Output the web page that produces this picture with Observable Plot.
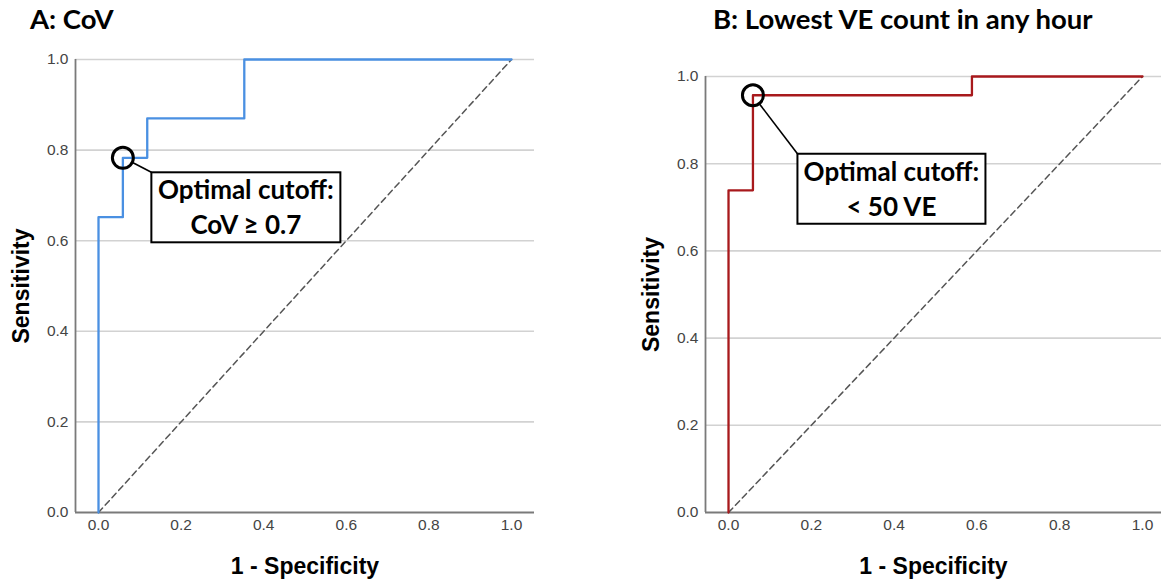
<!DOCTYPE html>
<html>
<head>
<meta charset="utf-8">
<script src="https://cdn.jsdelivr.net/npm/d3@7"></script>
<script src="https://cdn.jsdelivr.net/npm/@observablehq/plot@0.6"></script>
<style>
  html, body { margin: 0; padding: 0; background: #fff; }
  #wrap { display: flex; width: 1161px; height: 583px; overflow: hidden; }
  .panel { position: relative; flex: none; }
  .title { height: 45px; position: relative; font-family: Lato, "Open Sans", sans-serif; font-weight: 700; font-size: 27.5px; color: #000; }
  .title span { position: absolute; top: 4px; line-height: 30px; white-space: nowrap; }
  svg { display: block; }
  g[aria-label$="tick label"], g[aria-label$="tick label"] text { font-size: 15.5px !important; font-family: "Liberation Sans", Arial, sans-serif; }
</style>
</head>
<body>
<div id="wrap">
  <div class="panel" id="pa" style="width:580px"><div class="title"><span style="left:30px"></span></div></div>
  <div class="panel" id="pb" style="width:581px"><div class="title"><span style="left:133px"></span></div></div>
</div>
<script>
// ---- data ----
const titles = ["A: CoV", "B: Lowest VE count in any hour"];
const xLabel = "1 - Specificity";
const yLabel = "Sensitivity";
const tickValues = [0, 0.2, 0.4, 0.6, 0.8, 1.0];
const gridValues = [0.2, 0.4, 0.6, 0.8, 1.0];

// ROC A (CoV): 1 - specificity vs sensitivity (step points)
const fprA = [0, 0, 0.059, 0.118, 0.353, 1.0];
const sensA = [0, 0.652, 0.783, 0.870, 1.0, 1.0];
// ROC B (lowest VE count in any hour)
const fprB = [0, 0, 0.059, 0.588, 1.0];
const sensB = [0, 0.739, 0.957, 1.0, 1.0];

// reference diagonal
const diagX = [0, 1];
const diagY = [0, 1];

// optimal cutoffs
const optimalFpr = [0.059, 0.059];
const optimalSens = [0.783, 0.957];
const cutoffLines = [["Optimal cutoff:", "CoV \u2265 0.7"], ["Optimal cutoff:", "< 50 VE"]];

// ---- drawing ----
const fmt = d3.format(".1f");
const diag = diagX.map((x, i) => ({x, y: diagY[i]}));

function annotation(opt, lines, box) {
  return (index, scales) => {
    const cx = scales.x(opt.fpr), cy = scales.y(opt.sens);
    const g = d3.create("svg:g");
    const bx = cx + box.dx, by = cy + box.dy;
    const a = Math.atan2(by - cy, bx - cx);
    const r0 = 12;
    g.append("line")
      .attr("x1", cx + r0 * Math.cos(a)).attr("y1", cy + r0 * Math.sin(a))
      .attr("x2", bx).attr("y2", by)
      .attr("stroke", "#000").attr("stroke-width", 1.6);
    g.append("rect")
      .attr("x", bx).attr("y", by).attr("width", box.w).attr("height", box.h)
      .attr("fill", "#fff").attr("stroke", "#000").attr("stroke-width", 2);
    lines.forEach((t, i) => {
      g.append("text")
        .attr("x", bx + box.w / 2).attr("y", by + 27 + i * 35)
        .attr("text-anchor", "middle")
        .attr("font-family", "Lato, 'Open Sans', sans-serif")
        .attr("font-weight", 700).attr("font-size", 26)
        .attr("fill", "#000")
        .text(t);
    });
    return g.node();
  };
}

function panel(cfg) {
  const roc = cfg.fpr.map((f, i) => ({fpr: f, sens: cfg.sens[i]}));
  const opt = {fpr: cfg.opt[0], sens: cfg.opt[1]};
  return Plot.plot({
    width: cfg.width,
    height: 538,
    marginTop: cfg.marginTop,
    marginBottom: 71,
    marginLeft: cfg.marginLeft,
    marginRight: cfg.marginRight,
    style: {background: "#fff", fontFamily: "'Liberation Sans', Arial, sans-serif", fontSize: "15.5px", overflow: "visible"},
    x: {domain: cfg.xDomain},
    y: {domain: [0, 1]},
    marks: [
      Plot.ruleY(gridValues, {stroke: "#d2d2d2", strokeWidth: 1.6}),
      Plot.axisX(tickValues, {tickFormat: fmt, tickSize: 0, tickPadding: 6, label: null, fontSize: 15.5, fill: "#444"}),
      Plot.axisY(tickValues, {tickFormat: fmt, tickSize: 0, tickPadding: 7, label: null, fontSize: 15.5, fill: "#444"}),
      Plot.ruleX([cfg.xDomain[0]], {stroke: "#7a7a7a", strokeWidth: 1.8}),
      Plot.ruleY([0], {stroke: "#7a7a7a", strokeWidth: 1.8}),
      Plot.line(diag, {x: "x", y: "y", stroke: "#555", strokeWidth: 1.5, strokeDasharray: "6,4"}),
      Plot.line(roc, {x: "fpr", y: "sens", curve: "step-after", stroke: cfg.color, strokeWidth: 2.3}),
      Plot.dot([opt], {x: "fpr", y: "sens", r: 10.5, stroke: "#000", strokeWidth: 3, fill: "none"}),
      annotation(opt, cfg.lines, cfg.box),
      Plot.text([yLabel], {text: d => d, frameAnchor: "left", textAnchor: "middle", lineAnchor: "middle", rotate: -90, dx: -54, fontSize: 23, fontWeight: "bold", fill: "#000"}),
      Plot.text([xLabel], {text: d => d, frameAnchor: "bottom", textAnchor: "middle", lineAnchor: "middle", dy: 54, fontSize: 23, fontWeight: "bold", fill: "#000"})
    ]
  });
}

const pa = document.getElementById("pa");
const pb = document.getElementById("pb");
pa.querySelector(".title span").textContent = titles[0];
pb.querySelector(".title span").textContent = titles[1];

pa.appendChild(panel({
  width: 580, marginTop: 14, marginLeft: 75, marginRight: 46,
  xDomain: [-0.0557, 1.0557],
  fpr: fprA, sens: sensA, color: "#4a90e2",
  opt: [optimalFpr[0], optimalSens[0]], lines: cutoffLines[0],
  box: {dx: 29, dy: 15, w: 189, h: 70}
}));
pb.appendChild(panel({
  width: 581, marginTop: 31, marginLeft: 125, marginRight: 0,
  xDomain: [-0.0556, 1.0459],
  fpr: fprB, sens: sensB, color: "#a8191c",
  opt: [optimalFpr[1], optimalSens[1]], lines: cutoffLines[1],
  box: {dx: 45, dy: 59, w: 188, h: 70}
}));
</script>
</body>
</html>
